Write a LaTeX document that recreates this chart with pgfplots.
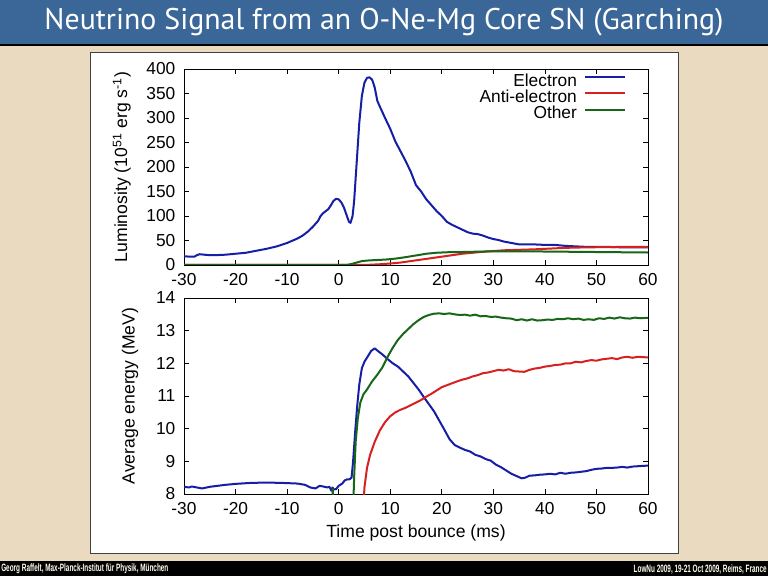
\documentclass[border=0pt]{standalone}
\usepackage{graphicx}
\usepackage{pgfplots}
\pgfplotsset{compat=1.18}
\usepackage{fontspec}
\setmainfont{Liberation Sans}
\newfontfamily\titlefont{PT Sans}
\definecolor{bgbeige}{RGB}{234,219,192}
\definecolor{titleblue}{RGB}{59,103,152}
\definecolor{cblue}{RGB}{22,30,165}
\definecolor{cred}{RGB}{215,32,32}
\definecolor{cgreen}{RGB}{24,102,24}
\newcommand\lblfont{\fontsize{13.2}{15}\selectfont}
\pgfplotsset{
  myax/.style={
    scale only axis, width=348pt, height=147pt, anchor=south west,
    xmin=-30, xmax=60,
    xtick={-30,-20,-10,0,10,20,30,40,50,60},
    xticklabels={-30,-20,-10,0,10,20,30,40,50,60},
    tick align=inside, major tick length=4pt,
    axis line style={line width=0.6pt},
    tick style={black, line width=0.5pt},
    ticklabel style={font=\fontsize{13}{15}\selectfont},
    xticklabel style={yshift=-2.5pt},
    yticklabel style={xshift=-3pt},
    every axis plot/.append style={line width=1.5pt, line join=round},
    clip=true,
  }
}
\begin{document}
\begin{tikzpicture}[x=0.75pt,y=0.75pt]
\fill[bgbeige] (0,0) rectangle (768,576);
\fill[titleblue] (0,576-44) rectangle (768,576);
\fill[black] (0,576-46.5) rectangle (768,576-44);
\fill[black] (0,0) rectangle (768,576-561);
\draw[fill=white,draw=black!75,line width=0.75pt] (90,576-553) rectangle (678,576-53);
\node[text=white,font=\titlefont\fontsize{22.4}{26}\selectfont] at (384,576-22) {Neutrino Signal from an O-Ne-Mg Core SN (Garching)};
\node[anchor=west,inner sep=0pt,text=white!92!yellow,font=\bfseries\fontsize{8}{9}\selectfont] at (1,576-569) {\scalebox{0.6}[1]{Georg Raffelt, Max-Planck-Institut für Physik, München}};
\node[anchor=east,inner sep=0pt,text=white!92!yellow,font=\bfseries\fontsize{8}{9}\selectfont] at (767,576-569) {\scalebox{0.6}[1]{LowNu 2009, 19-21 Oct 2009, Reims, France}};

% ---------------- top: luminosity
\begin{axis}[myax, at={(138pt,233.25pt)},
  ymin=0, ymax=400,
  ytick={0,50,100,150,200,250,300,350,400},
  yticklabels={0,50,100,150,200,250,300,350,400},
  ylabel={Luminosity (10\textsuperscript{51} erg s\textsuperscript{-1})},
  every axis y label/.style={at={(axis description cs:-0.134,0.5)}, rotate=90, anchor=center, font=\lblfont},
  legend style={draw=none, fill=none, at={(0.962,0.99)}, anchor=north east,
    font=\fontsize{13}{15}\selectfont, row sep=0pt, column sep=5pt,
    nodes={inner sep=0.4pt, text height=9pt, text depth=2.3pt}},
  legend cell align=right, legend plot pos=right,
  legend image code/.code={\draw[#1] (0pt,3.5pt) -- (30pt,3.5pt);},
]
\addplot[cblue] coordinates {
(-30,18)(-29,17)(-28,17)(-27.5,20)(-27,22)(-26,21)(-25,20)(-24,20)(-22,21)(-20,23)(-18,25)(-16,29)(-14,33)(-12,38)(-10,45)(-8,54)(-7,60)(-6,68)(-5,78)(-4,90)(-3.5,100)(-3,106)(-2,114)(-1.5,122)(-1,131)(-0.5,135)(0,134)(0.5,128)(1,118)(1.5,103)(2,88)(2.3,86)(2.7,100)(3,130)(3.5,210)(4,290)(4.5,345)(5,372)(5.5,382)(6,383)(6.5,378)(7,362)(7.5,335)(8,323)(9,300)(10,278)(11,252)(12,232)(13,212)(14,190)(15,163)(16,150)(17,134)(18,122)(19,110)(20,100)(21,88)(22,82)(23,77)(24,72)(25,67)(26,64)(27,63)(28,60)(29,56)(30,53)(31,51)(32,48)(33,46)(34,44)(35,42)(36,42)(38,42)(40,41)(42,41)(44,39)(46,38)(48,37)(50,37)(52,37)(55,36)(58,36)(60,36)};
\addlegendentry{Electron}
\addplot[cred] coordinates {
(-30,0)(4,0)(6,0.5)(8,1.5)(10,3)(12,5)(14,8)(16,11)(18,14)(20,17)(22,20)(24,23)(26,25)(28,27)(30,28.5)(32,30)(35,31)(38,32)(40,33)(44,35)(48,36)(52,36.5)(56,37)(60,37)};
\addlegendentry{Anti-electron}
\addplot[cgreen] coordinates {
(-30,0)(1.5,0)(2.5,2)(3.5,5)(4.5,8)(5.5,9)(7,10)(9,11)(11,13)(13,16)(15,19.5)(17,23)(19,25)(21,26)(24,26.5)(28,27.5)(32,28)(36,28)(40,27.5)(45,27)(50,26.5)(55,26)(60,25.5)};
\addlegendentry{Other}
\end{axis}

% ---------------- bottom: average energy
\begin{axis}[myax, at={(138pt,61.5pt)},
  ymin=8, ymax=14,
  ytick={8,9,10,11,12,13,14},
  yticklabels={8,9,10,11,12,13,14},
  ylabel={Average energy (MeV)},
  xlabel={Time post bounce (ms)},
  every axis y label/.style={at={(axis description cs:-0.116,0.5)}, rotate=90, anchor=center, font=\lblfont},
  every axis x label/.style={at={(axis description cs:0.5,-0.199)}, anchor=center, font=\lblfont},
]
\addplot[cblue] coordinates {
(-30,8.22)(-29,8.2)(-28.5,8.23)(-27.5,8.2)(-26.5,8.17)(-25,8.22)(-22,8.28)(-20,8.31)(-17,8.34)(-14,8.35)(-11,8.34)(-8,8.32)(-6.5,8.28)(-5.5,8.2)(-4.5,8.17)(-3.7,8.25)(-3,8.23)(-2.2,8.2)(-1.8,8.22)(-1.4,8.1)(-1.2,8.2)(-0.9,8.14)(-0.5,8.15)(0,8.25)(0.7,8.32)(1.2,8.42)(1.7,8.45)(2.1,8.45)(2.5,8.5)(2.8,9.0)(3.2,9.9)(3.6,10.7)(4,11.35)(4.5,11.85)(5,12.05)(5.6,12.2)(6.3,12.38)(7,12.46)(7.6,12.38)(8.5,12.27)(9.5,12.13)(10.5,12.0)(11.5,11.9)(12.5,11.75)(13.5,11.6)(14.5,11.4)(15.5,11.2)(16.5,10.97)(17.5,10.75)(18.5,10.53)(19.5,10.25)(20.5,9.97)(21.5,9.68)(22.5,9.5)(23.5,9.42)(24.5,9.35)(25.5,9.3)(26.5,9.2)(27.5,9.15)(28.5,9.07)(29.5,9.02)(30.5,8.9)(31.5,8.82)(32.5,8.72)(33.5,8.62)(34.5,8.55)(35.5,8.48)(36.2,8.5)(37,8.56)(38,8.57)(39,8.59)(40,8.6)(41,8.62)(42,8.6)(43,8.65)(44,8.62)(45,8.65)(46,8.66)(47,8.68)(48,8.7)(49,8.74)(50,8.77)(51,8.78)(52,8.8)(53,8.8)(54,8.81)(55,8.83)(56,8.81)(57,8.84)(58,8.85)(59,8.86)(60,8.87)};
\addplot[cred] coordinates {
(4.6,7.0)(5.0,8.2)(5.5,8.8)(6.1,9.2)(7,9.6)(8,9.95)(9,10.2)(10,10.38)(11,10.5)(12,10.58)(13,10.64)(14,10.72)(15,10.8)(16,10.88)(17,10.98)(18,11.07)(19,11.17)(20,11.27)(21,11.33)(22,11.39)(23,11.45)(24,11.5)(25,11.54)(26,11.6)(27,11.64)(28,11.7)(29,11.72)(30,11.76)(31,11.8)(32,11.78)(33,11.82)(34,11.76)(35,11.75)(36,11.74)(37,11.8)(38,11.84)(39,11.86)(40,11.9)(41,11.92)(42,11.95)(43,11.96)(44,12.0)(45,12.0)(46,12.05)(47,12.03)(48,12.07)(49,12.1)(50,12.08)(51,12.12)(52,12.14)(53,12.16)(54,12.13)(55,12.18)(56,12.2)(57,12.17)(58,12.2)(59,12.19)(60,12.18)};
\addplot[cgreen] coordinates {
(-1.3,7.0)(-1.15,8.18)(-1.0,7.0)(2.7,7.0)(3.0,8.5)(3.3,9.6)(3.7,10.3)(4.2,10.8)(4.8,11.05)(5.5,11.2)(6.5,11.45)(7.5,11.65)(8.5,11.88)(9.5,12.2)(10.5,12.48)(11.5,12.72)(12.5,12.9)(13.5,13.05)(14.5,13.2)(15.5,13.32)(16.5,13.42)(17.5,13.48)(18.5,13.52)(19.5,13.53)(20.5,13.51)(21.5,13.53)(22.5,13.5)(23.5,13.48)(24.5,13.49)(25.5,13.46)(26.5,13.49)(27.5,13.44)(28.5,13.45)(29.5,13.42)(30.5,13.43)(31.5,13.4)(32.5,13.38)(33.5,13.37)(34.5,13.32)(35.5,13.35)(36.5,13.31)(37.5,13.35)(38.5,13.31)(39.5,13.32)(40.5,13.34)(41.5,13.33)(42.5,13.36)(43.5,13.35)(44.5,13.38)(45.5,13.35)(46.5,13.37)(47.5,13.33)(48.5,13.35)(49.5,13.33)(50.5,13.38)(51.5,13.36)(52.5,13.4)(53.5,13.37)(54.5,13.41)(55.5,13.38)(56.5,13.37)(57.5,13.4)(58.5,13.38)(59.5,13.39)(60,13.39)};
\end{axis}
\end{tikzpicture}
\end{document}
